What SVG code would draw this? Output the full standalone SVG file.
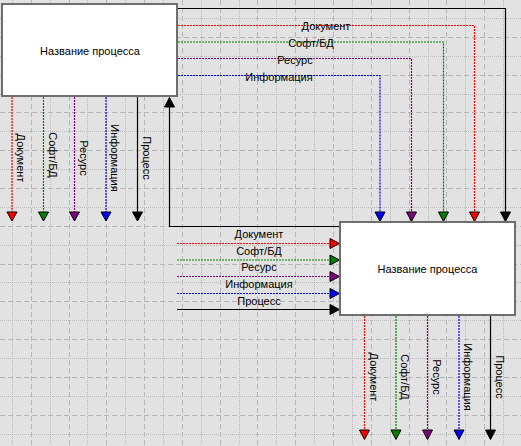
<svg xmlns="http://www.w3.org/2000/svg" width="521" height="446" viewBox="0 0 521 446">
<style>
text{font-family:"Liberation Sans",Arial,sans-serif;font-size:11px;fill:#000}
.lbl{text-anchor:middle}
.box{fill:#fff;stroke:#6e6e6e;stroke-width:2}
.gd{stroke:#b6b6b6;stroke-width:1;stroke-dasharray:5 3;fill:none}
.gt{stroke:#b9b9b9;stroke-width:1;stroke-dasharray:1 1;fill:none}
.c{fill:none;stroke-width:1.2;stroke-dasharray:2 1}
.r{stroke:#ff0000}.g{stroke:#008000}.p{stroke:#800080}.b{stroke:#0000ff}
.k{fill:none;stroke:#000;stroke-width:1.2}
.ah{stroke:#000;stroke-width:1}
</style>
<rect x="0" y="0" width="521" height="446" fill="#e2e2e2"/>
<g id="grid">
<path class="gt" d="M12.5 0V446M50.5 0V446M87.5 0V446M125.5 0V446M163.5 0V446M201.5 0V446M239.5 0V446M276.5 0V446M314.5 0V446M352.5 0V446M390.5 0V446M428.5 0V446M465.5 0V446M503.5 0V446"/>
<path class="gd" d="M31.5 0V446M69.5 0V446M106.5 0V446M144.5 0V446M182.5 0V446M220.5 0V446M257.5 0V446M295.5 0V446M333.5 0V446M371.5 0V446M409.5 0V446M446.5 0V446M484.5 0V446"/>
<path class="gt" d="M0 18.5H521M0 56.5H521M0 94.5H521M0 131.5H521M0 169.5H521M0 207.5H521M0 245.5H521M0 282.5H521M0 320.5H521M0 358.5H521M0 396.5H521M0 434.5H521"/>
<path class="gd" d="M0 37.5H521M0 75.5H521M0 112.5H521M0 150.5H521M0 188.5H521M0 226.5H521M0 264.5H521M0 301.5H521M0 339.5H521M0 377.5H521M0 415.5H521"/>
</g>
<g id="connectors">
<!-- box1 right to box2 top -->
<path class="k" d="M178 8.5H505.5V212"/>
<path class="c r" d="M178 25.5H474.5V212"/>
<path class="c g" d="M178 42H443.5V212"/>
<path class="c p" d="M178 58.5H411.5V212"/>
<path class="c b" d="M178 75.5H380V212"/>
<polygon class="ah" fill="#000" points="500.5,212 510.5,212 505.5,221.5"/>
<polygon class="ah" fill="#ff0000" points="469.5,212 479.5,212 474.5,221.5"/>
<polygon class="ah" fill="#008000" points="438.5,212 448.5,212 443.5,221.5"/>
<polygon class="ah" fill="#800080" points="406.5,212 416.5,212 411.5,221.5"/>
<polygon class="ah" fill="#0000ff" points="375,212 385,212 380,221.5"/>
<!-- box1 bottom outputs -->
<path class="c r" d="M12 97V212"/>
<path class="c g" d="M43.5 97V212"/>
<path class="c p" d="M74.5 97V212"/>
<path class="c b" d="M106 97V212"/>
<path class="k" d="M137.5 97V212"/>
<polygon class="ah" fill="#ff0000" points="7,212 17,212 12,221"/>
<polygon class="ah" fill="#008000" points="38.5,212 48.5,212 43.5,221"/>
<polygon class="ah" fill="#800080" points="69.5,212 79.5,212 74.5,221"/>
<polygon class="ah" fill="#0000ff" points="101,212 111,212 106,221"/>
<polygon class="ah" fill="#000" points="132.5,212 142.5,212 137.5,221"/>
<!-- feedback -->
<path class="k" d="M340 226.5H169.5V106"/>
<polygon class="ah" fill="#000" points="164.5,107 174.5,107 169.5,97.5"/>
<!-- box2 left inputs -->
<path class="c r" d="M177 243.5H330"/>
<path class="c g" d="M177 260H330"/>
<path class="c p" d="M177 276.5H330"/>
<path class="c b" d="M177 293.5H330"/>
<path class="k" d="M177 309.5H330"/>
<polygon class="ah" fill="#ff0000" points="330,238.5 330,248.5 339.5,243.5"/>
<polygon class="ah" fill="#008000" points="330,255 330,265 339.5,260"/>
<polygon class="ah" fill="#800080" points="330,271.5 330,281.5 339.5,276.5"/>
<polygon class="ah" fill="#0000ff" points="330,288.5 330,298.5 339.5,293.5"/>
<polygon class="ah" fill="#000" points="330,304.5 330,314.5 339.5,309.5"/>
<!-- box2 bottom outputs -->
<path class="c r" d="M364.5 316V430"/>
<path class="c g" d="M396 316V430"/>
<path class="c p" d="M427.5 316V430"/>
<path class="c b" d="M459 316V430"/>
<path class="k" d="M490.5 316V430"/>
<polygon class="ah" fill="#ff0000" points="359.5,430 369.5,430 364.5,439.5"/>
<polygon class="ah" fill="#008000" points="391,430 401,430 396,439.5"/>
<polygon class="ah" fill="#800080" points="422.5,430 432.5,430 427.5,439.5"/>
<polygon class="ah" fill="#0000ff" points="454,430 464,430 459,439.5"/>
<polygon class="ah" fill="#000" points="485.5,430 495.5,430 490.5,439.5"/>
<!-- labels -->
<text class="lbl" x="326" y="29.7">Документ</text>
<text class="lbl" x="311" y="46.5">Софт/БД</text>
<text class="lbl" x="295" y="63.5">Ресурс</text>
<text class="lbl" x="279" y="80.5">Информация</text>
<text class="lbl" x="259" y="238">Документ</text>
<text class="lbl" x="259" y="254.7">Софт/БД</text>
<text class="lbl" x="259" y="271.3">Ресурс</text>
<text class="lbl" x="259" y="288">Информация</text>
<text class="lbl" x="259" y="304.7">Процесс</text>
<text class="lbl" transform="translate(17,158) rotate(90)">Документ</text>
<text class="lbl" transform="translate(48.5,155) rotate(90)">Софт/БД</text>
<text class="lbl" transform="translate(79.5,158) rotate(90)">Ресурс</text>
<text class="lbl" transform="translate(111,158) rotate(90)">Информация</text>
<text class="lbl" transform="translate(142.5,158) rotate(90)">Процесс</text>
<text class="lbl" transform="translate(369.5,377) rotate(90)">Документ</text>
<text class="lbl" transform="translate(401,377) rotate(90)">Софт/БД</text>
<text class="lbl" transform="translate(432.5,377) rotate(90)">Ресурс</text>
<text class="lbl" transform="translate(464,377) rotate(90)">Информация</text>
<text class="lbl" transform="translate(495.5,377) rotate(90)">Процесс</text>
</g>
<g id="node1">
<rect class="box" x="2" y="4" width="175" height="92"/>
<text class="lbl" x="90" y="55">Название процесса</text>
</g>
<g id="node2">
<rect class="box" x="340" y="222" width="175" height="93"/>
<text class="lbl" x="427.5" y="273">Название процесса</text>
</g>
</svg>
